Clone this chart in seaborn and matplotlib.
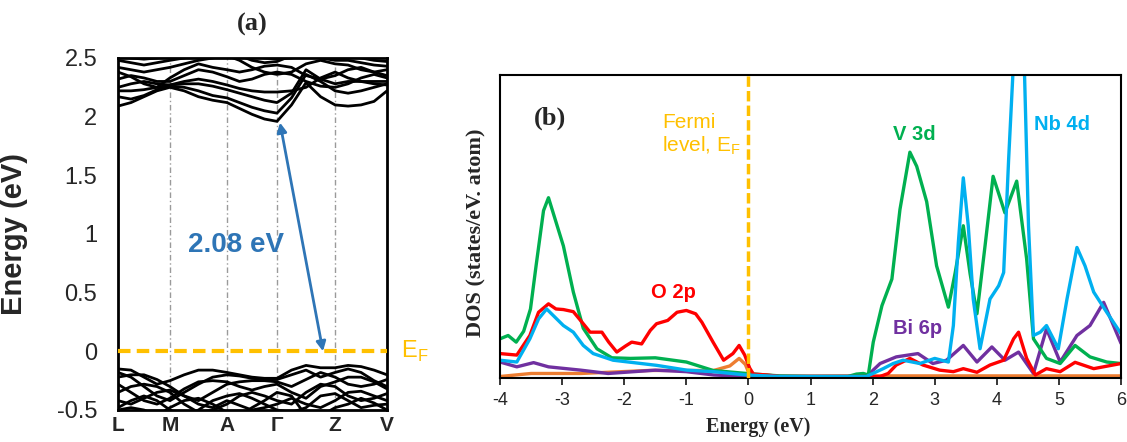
import numpy as np
import pandas as pd
import matplotlib
matplotlib.use("Agg")
import matplotlib.pyplot as plt
import matplotlib.transforms as mtransforms
import seaborn as sns

# ---------------- (a) band structure ----------------
kpoint_labels = ["L", "M", "A", "Γ", "Z", "V"]
kpoint_pos = [0.0, 0.193, 0.405, 0.591, 0.807, 1.0]

# energies (eV) on 4 sub-steps per path segment -> 21 samples per band
conduction_bands = [
    [2.09, 2.12, 2.17, 2.22, 2.25, 2.22, 2.17, 2.14, 2.12, 2.07, 2.02, 1.98, 1.96, 2.10, 2.29, 2.17, 2.10, 2.09, 2.10, 2.13, 2.22],
    [2.17, 2.15, 2.18, 2.23, 2.26, 2.25, 2.22, 2.18, 2.16, 2.12, 2.08, 2.05, 2.03, 2.16, 2.36, 2.30, 2.22, 2.20, 2.22, 2.25, 2.28],
    [2.22, 2.22, 2.23, 2.25, 2.27, 2.28, 2.28, 2.26, 2.23, 2.20, 2.17, 2.14, 2.12, 2.20, 2.40, 2.32, 2.28, 2.30, 2.30, 2.28, 2.27],
    [2.25, 2.28, 2.30, 2.28, 2.27, 2.30, 2.32, 2.30, 2.27, 2.24, 2.22, 2.21, 2.21, 2.22, 2.25, 2.33, 2.38, 2.33, 2.30, 2.30, 2.30],
    [2.32, 2.35, 2.33, 2.30, 2.30, 2.35, 2.40, 2.38, 2.34, 2.30, 2.32, 2.36, 2.38, 2.36, 2.30, 2.26, 2.25, 2.28, 2.33, 2.36, 2.33],
    [2.38, 2.34, 2.28, 2.25, 2.33, 2.40, 2.45, 2.42, 2.40, 2.38, 2.40, 2.43, 2.44, 2.42, 2.35, 2.32, 2.35, 2.40, 2.42, 2.38, 2.35],
    [2.42, 2.40, 2.38, 2.40, 2.42, 2.45, 2.48, 2.50, 2.52, 2.48, 2.42, 2.38, 2.36, 2.38, 2.45, 2.48, 2.45, 2.44, 2.40, 2.38, 2.40],
    [2.48, 2.46, 2.44, 2.46, 2.48, 2.50, 2.52, 2.54, 2.55, 2.52, 2.48, 2.46, 2.47, 2.52, 2.55, 2.50, 2.48, 2.48, 2.46, 2.44, 2.43],
    [2.52, 2.50, 2.49, 2.50, 2.52, 2.55, 2.56, 2.56, 2.56, 2.54, 2.52, 2.50, 2.49, 2.50, 2.52, 2.55, 2.56, 2.52, 2.50, 2.48, 2.47],
]
valence_bands = [
    [-0.15, -0.16, -0.22, -0.28, -0.25, -0.20, -0.16, -0.16, -0.18, -0.20, -0.22, -0.23, -0.23, -0.16, -0.12, -0.14, -0.14, -0.12, -0.13, -0.16, -0.20],
    [-0.18, -0.22, -0.30, -0.38, -0.42, -0.35, -0.28, -0.22, -0.20, -0.21, -0.23, -0.24, -0.24, -0.20, -0.16, -0.22, -0.18, -0.15, -0.18, -0.25, -0.30],
    [-0.22, -0.20, -0.20, -0.24, -0.30, -0.38, -0.42, -0.35, -0.28, -0.26, -0.25, -0.25, -0.26, -0.30, -0.24, -0.18, -0.22, -0.28, -0.30, -0.28, -0.24],
    [-0.28, -0.35, -0.42, -0.45, -0.40, -0.32, -0.26, -0.25, -0.26, -0.30, -0.33, -0.30, -0.28, -0.35, -0.40, -0.30, -0.26, -0.22, -0.22, -0.26, -0.32],
    [-0.35, -0.30, -0.28, -0.30, -0.35, -0.45, -0.52, -0.50, -0.45, -0.38, -0.35, -0.38, -0.42, -0.45, -0.35, -0.28, -0.30, -0.38, -0.42, -0.40, -0.36],
    [-0.42, -0.45, -0.40, -0.35, -0.33, -0.38, -0.45, -0.48, -0.42, -0.46, -0.50, -0.48, -0.45, -0.40, -0.45, -0.48, -0.42, -0.35, -0.34, -0.38, -0.42],
    [-0.48, -0.42, -0.38, -0.42, -0.50, -0.55, -0.50, -0.42, -0.38, -0.36, -0.40, -0.45, -0.50, -0.52, -0.48, -0.38, -0.36, -0.42, -0.48, -0.46, -0.45],
    [-0.50, -0.48, -0.50, -0.55, -0.48, -0.42, -0.40, -0.45, -0.52, -0.55, -0.48, -0.42, -0.35, -0.38, -0.55, -0.55, -0.48, -0.45, -0.40, -0.44, -0.50],
]
energy_ticks = [-0.5, 0, 0.5, 1, 1.5, 2, 2.5]

# ---------------- (b) projected DOS ----------------
o2p_E = [-4.0, -3.73, -3.52, -3.38, -3.22, -3.1, -2.98, -2.82, -2.66, -2.55, -2.36, -2.25, -2.12, -1.98, -1.88,
         -1.72, -1.58, -1.48, -1.3, -1.15, -1.0, -0.85, -0.75, -0.57, -0.4, -0.25, -0.15, -0.06, 0.02, 0.08,
         0.3, 0.5, 2.12, 2.25, 2.38, 2.6, 2.81, 3.08, 3.3, 3.46, 3.68, 3.89, 4.11, 4.27, 4.35, 4.48, 4.62,
         4.8, 5.02, 5.26, 5.56, 6.0]
o2p_dos = [0.76, 0.71, 1.36, 2.13, 2.41, 2.24, 2.22, 2.15, 1.75, 1.47, 1.47, 1.14, 0.81, 1.01, 1.14,
           1.08, 1.53, 1.75, 1.86, 2.13, 2.19, 2.08, 1.8, 1.14, 0.54, 0.76, 1.03, 0.71, 0.28, 0.08,
           0.05, 0.0, 0.0, 0.1, 0.38, 0.6, 0.38, 0.21, 0.16, 0.26, 0.14, 0.38, 0.54, 1.25, 1.47, 0.6, 0.05,
           0.26, 0.16, 0.47, 0.26, 0.43]

v3d_E = [-4.0, -3.87, -3.74, -3.62, -3.51, -3.42, -3.3, -3.22, -3.13, -2.98, -2.82, -2.66, -2.44, -2.2, -1.9,
         -1.5, -1.0, -0.57, -0.03, 0.5, 1.0, 1.6, 1.74, 1.85, 1.93, 2.01, 2.15, 2.31, 2.44, 2.6, 2.71, 2.87,
         3.03, 3.22, 3.33, 3.46, 3.57, 3.68, 3.81, 3.94, 4.13, 4.32, 4.48, 4.59, 4.8, 5.02, 5.26, 5.5, 5.77, 6.0]
v3d_dos = [1.25, 1.36, 1.14, 1.5, 2.24, 3.67, 5.5, 5.93, 5.33, 4.33, 2.8, 1.6, 0.92, 0.62, 0.6,
           0.62, 0.48, 0.2, 0.1, 0.02, 0.0, 0.0, 0.08, 0.1, 0.05, 1.14, 2.35, 3.23, 5.54, 7.44, 6.97, 5.8,
           3.67, 2.3, 3.45, 5.0, 3.4, 2.08, 4.33, 6.64, 5.43, 6.48, 3.9, 1.25, 0.6, 0.43, 1.03, 0.65, 0.48, 0.43]

nb4d_E = [-4.0, -3.73, -3.52, -3.38, -3.25, -2.98, -2.82, -2.66, -2.5, -2.18, -1.48, -0.99, -0.56, -0.03, 0.5,
          1.9, 2.17, 2.33, 2.49, 2.76, 3.0, 3.22, 3.3, 3.38, 3.46, 3.54, 3.62, 3.73, 3.89, 4.03, 4.11, 4.19,
          4.27, 4.35, 4.44, 4.51, 4.59, 4.7, 4.8, 4.91, 4.99, 5.13, 5.29, 5.42, 5.56, 5.77, 6.0]
nb4d_dos = [0.54, 0.48, 1.25, 1.91, 2.24, 1.69, 1.47, 1.03, 0.76, 0.54, 0.37, 0.21, 0.16, 0.05, 0.0,
            0.0, 0.26, 0.43, 0.54, 0.43, 0.6, 0.48, 1.69, 4.44, 6.59, 5.0, 2.57, 0.92, 2.57, 3.01, 3.45, 7.2,
            10.5, 12.5, 10.5, 5.0, 1.36, 1.47, 1.69, 1.25, 0.92, 2.57, 4.28, 3.67, 2.8, 2.13, 1.42]

bi6p_E = [-4.0, -3.73, -3.46, -3.22, -2.7, -2.26, -1.5, -1.0, -0.56, -0.03, 1.9, 2.12, 2.38, 2.73, 2.97,
          3.19, 3.46, 3.68, 3.92, 4.13, 4.35, 4.59, 4.8, 5.02, 5.29, 5.5, 5.72, 6.0]
bi6p_dos = [0.48, 0.32, 0.46, 0.32, 0.21, 0.1, 0.21, 0.16, 0.05, 0.0, 0.0, 0.43, 0.65, 0.76, 0.43,
            0.54, 1.03, 0.48, 0.98, 0.54, 0.81, 0.1, 1.58, 0.48, 1.36, 1.69, 2.46, 1.1]

other_E = [-4.0, -3.5, -2.7, -1.6, -0.56, -0.3, -0.15, -0.05, 0.03, 2.0, 6.0]
other_dos = [0.0, 0.1, 0.1, 0.2, 0.2, 0.35, 0.6, 0.4, 0.0, 0.02, 0.02]

dos_ticks = [-4, -3, -2, -1, 0, 1, 2, 3, 4, 5, 6]

# ---------------- styling ----------------
sns.set_style("ticks")
plt.rcParams["font.family"] = ["Liberation Sans", "DejaVu Sans"]
plt.rcParams["axes.unicode_minus"] = False
plt.rcParams["lines.solid_joinstyle"] = "round"
plt.rcParams["lines.solid_capstyle"] = "round"

FERMI = "#FFC000"
ARROW = "#2E75B6"
orbital_colors = {
    "other": "#ED7D31",
    "Bi 6p": "#7030A0",
    "V 3d": "#00B050",
    "O 2p": "#FF0000",
    "Nb 4d": "#00B0F0",
}
SERIF = ["Liberation Serif", "DejaVu Serif"]

fig = plt.figure(figsize=(11.27, 4.42), dpi=100)
ax_a = fig.add_axes([0.1047, 0.0724, 0.2387, 0.7964])
ax_b = fig.add_axes([0.4437, 0.1448, 0.5510, 0.6855])

# ---- panel (a) ----
k_grid = np.concatenate(
    [np.linspace(a, b, 5)[:-1] for a, b in zip(kpoint_pos[:-1], kpoint_pos[1:])] + [[kpoint_pos[-1]]]
)
rows = []
for i, band in enumerate(conduction_bands + valence_bands):
    for k, e in zip(k_grid, band):
        rows.append({"k": k, "E": e, "band": i})
band_df = pd.DataFrame(rows)

for kp in kpoint_pos[1:-1]:
    ax_a.axvline(kp, color="#9a9a9a", lw=1.0, ls=(0, (4, 2, 1, 2)), zorder=1)

sns.lineplot(data=band_df, x="k", y="E", units="band", estimator=None, sort=False,
             color="black", lw=2.0, legend=False, ax=ax_a, zorder=2)

ax_a.axhline(0, color=FERMI, lw=3, ls=(0, (3, 1.5)), zorder=3, clip_on=False)
ax_a.set_xlim(0, 1)
ax_a.set_ylim(-0.5, 2.5)
ax_a.set_xticks(kpoint_pos)
ax_a.set_xticklabels(kpoint_labels, fontsize=15, fontweight="bold")
ax_a.set_yticks(energy_ticks)
ax_a.set_yticklabels([f"{t:g}" for t in energy_ticks], fontsize=17)
ax_a.tick_params(axis="x", length=0, pad=4)
ax_a.tick_params(axis="y", length=0, pad=15)
ax_a.set_xlabel("")
ax_a.set_ylabel("Energy (eV)", fontsize=21, fontweight="bold")
ax_a.yaxis.set_label_coords(-0.335, 0.5)
ax_a.set_title("(a)", fontfamily=SERIF, fontweight="bold", fontsize=19, pad=20)
for sp in ax_a.spines.values():
    sp.set_linewidth(2)
    sp.set_color("black")

# band gap between the valence band maximum and conduction band minimum
vbm = max(max(b) for b in valence_bands)
cbm = min(min(b) for b in conduction_bands)
ax_a.annotate("", xy=(0.762, 0.0), xytext=(0.602, cbm - 0.01),
              arrowprops=dict(arrowstyle="<|-|>", color=ARROW, lw=2, mutation_scale=14,
                              shrinkA=0, shrinkB=0), zorder=4)
ax_a.text(0.4375, 0.91, f"{cbm - vbm:.2f} eV", color=ARROW, fontsize=20,
          fontweight="bold", ha="center", va="center", zorder=5)
blend = mtransforms.blended_transform_factory(ax_a.transAxes, ax_a.transData)
ax_a.text(1.052, 0.0, r"E$_\mathregular{F}$", transform=blend, color=FERMI, fontsize=17,
          ha="left", va="center", clip_on=False)

# ---- panel (b) ----
series = {
    "other": (other_E, other_dos),
    "Bi 6p": (bi6p_E, bi6p_dos),
    "V 3d": (v3d_E, v3d_dos),
    "O 2p": (o2p_E, o2p_dos),
    "Nb 4d": (nb4d_E, nb4d_dos),
}
dos_df = pd.concat(
    [pd.DataFrame({"E": e, "DOS": d, "orbital": name}) for name, (e, d) in series.items()],
    ignore_index=True,
)
sns.lineplot(data=dos_df, x="E", y="DOS", hue="orbital", hue_order=list(series.keys()),
             palette=orbital_colors, estimator=None, sort=False, lw=2.4, legend=False, ax=ax_b)

ax_b.axvline(0, ymin=0.0, ymax=1.0, color=FERMI, lw=2.5, ls=(0, (3, 1.2)), zorder=5)
ax_b.set_xlim(-4, 6)
ax_b.set_ylim(-0.05, 10)
ax_b.set_xticks(dos_ticks)
ax_b.set_xticklabels([str(t) for t in dos_ticks], fontsize=13)
ax_b.set_yticks([])
ax_b.tick_params(axis="x", direction="out", length=5, width=1.3, pad=5)
ax_b.set_xlabel("Energy (eV)", fontfamily=SERIF, fontweight="bold", fontsize=14.5)
ax_b.xaxis.set_label_coords(0.415, -0.13)
ax_b.set_ylabel("DOS (states/eV. atom)", fontfamily=SERIF, fontweight="bold", fontsize=16)
ax_b.yaxis.set_label_coords(-0.022, 0.48)
for sp in ax_b.spines.values():
    sp.set_linewidth(1.5)
    sp.set_color("black")

ax_b.text(-3.19, 8.55, "(b)", fontfamily=SERIF, fontweight="bold", fontsize=19,
          ha="center", va="center")
ax_b.text(-1.39, 8.75, "Fermi\nlevel, E$_\\mathregular{F}$", color=FERMI, fontsize=15,
          ha="left", va="top", linespacing=1.15)
ax_b.text(-1.21, 2.8, "O 2p", color=orbital_colors["O 2p"], fontsize=14.5,
          fontweight="bold", ha="center", va="center")
ax_b.text(2.67, 8.02, "V 3d", color=orbital_colors["V 3d"], fontsize=14.5,
          fontweight="bold", ha="center", va="center")
ax_b.text(5.05, 8.35, "Nb 4d", color=orbital_colors["Nb 4d"], fontsize=14.5,
          fontweight="bold", ha="center", va="center")
ax_b.text(2.72, 1.58, "Bi 6p", color=orbital_colors["Bi 6p"], fontsize=14.5,
          fontweight="bold", ha="center", va="center")

fig.savefig("out.png", dpi=100)
